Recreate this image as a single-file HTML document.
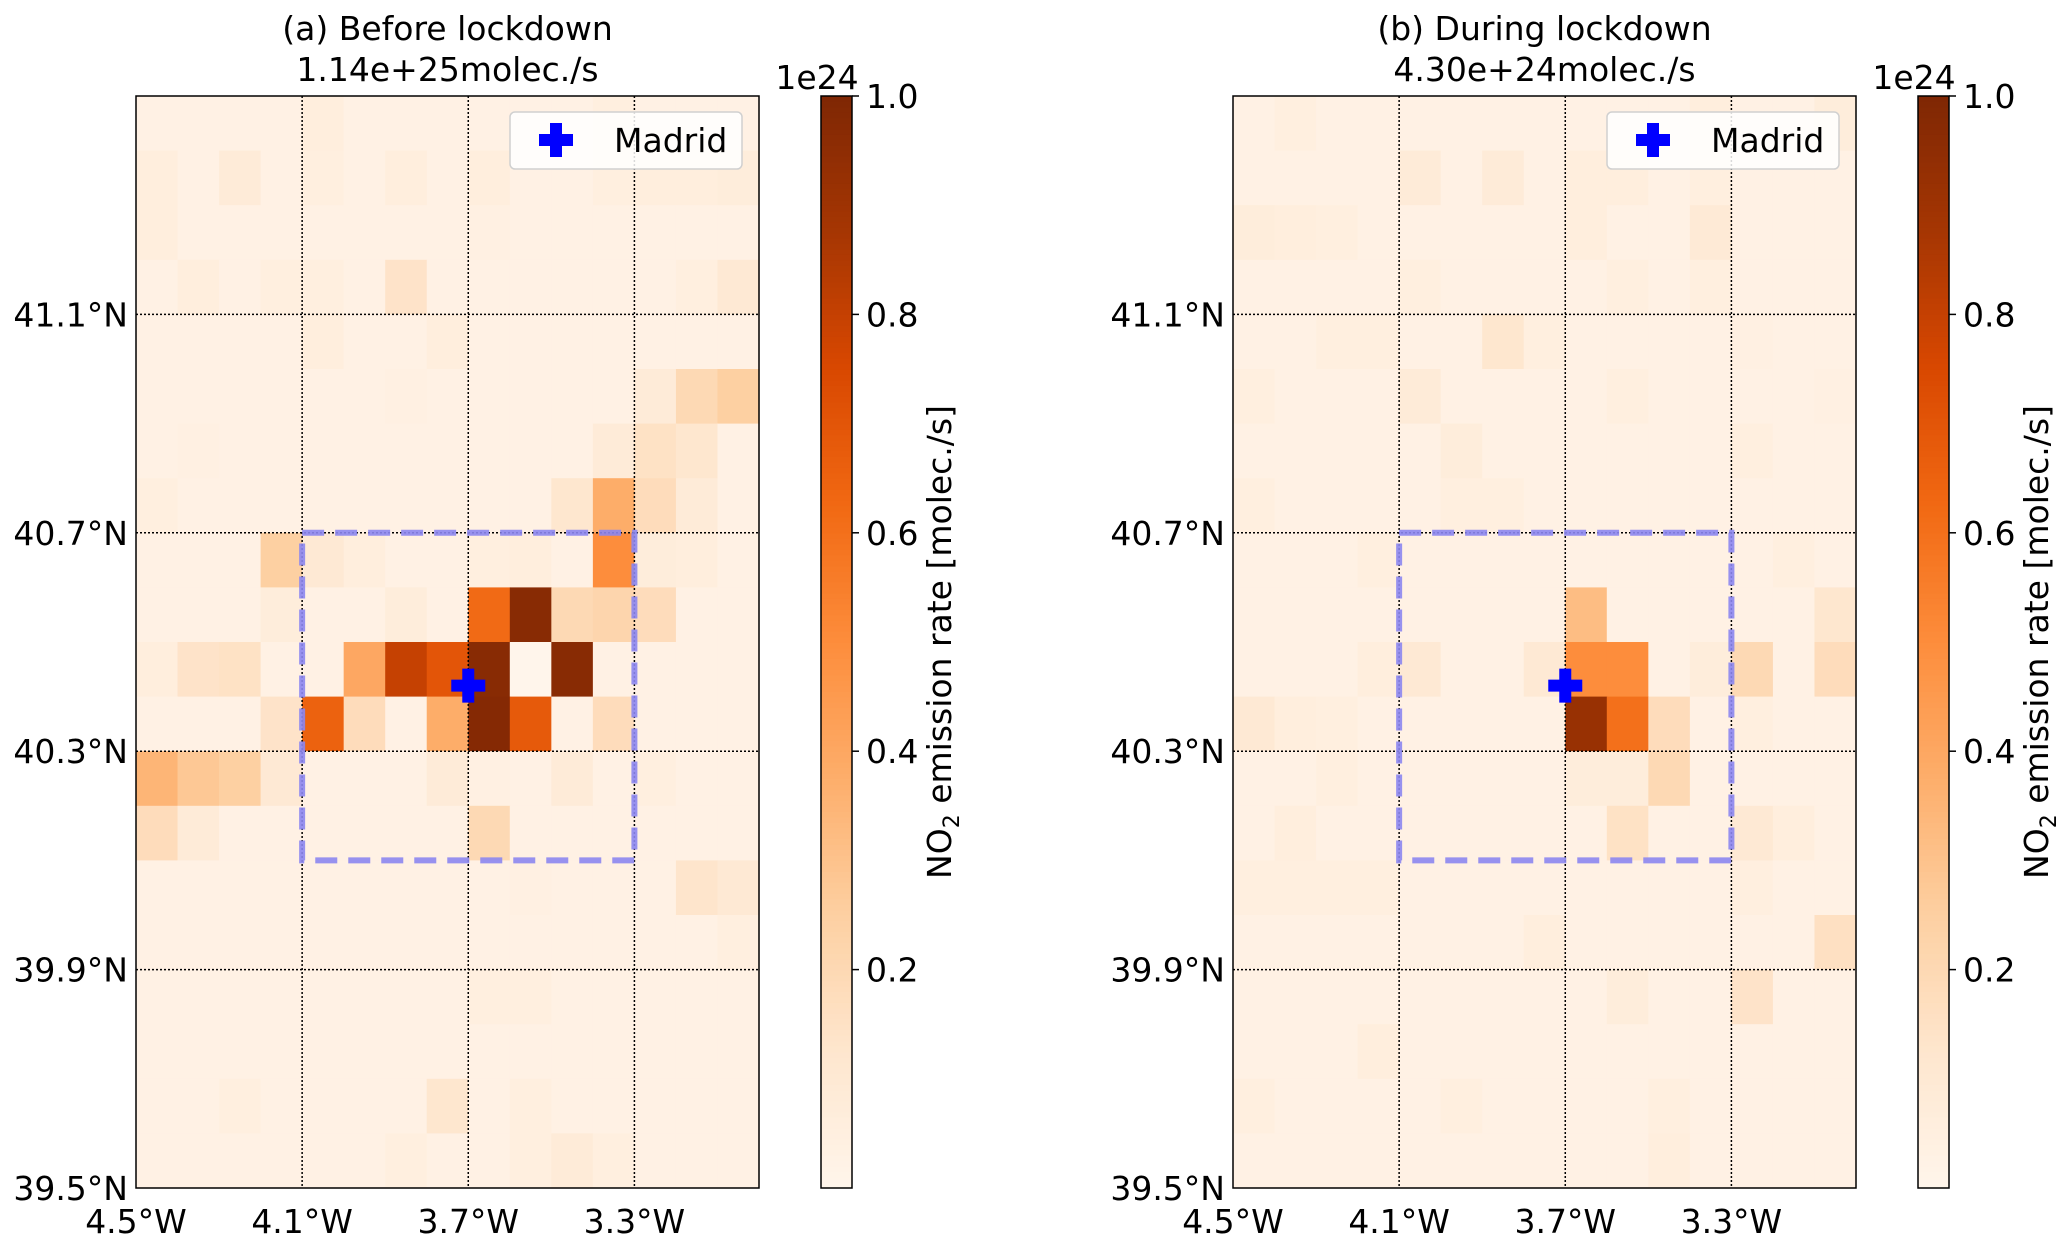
<!DOCTYPE html>
<html><head><meta charset="utf-8"><style>
html,body{margin:0;padding:0;background:#fff}
svg{display:block}
text{font-family:"DejaVu Sans","Liberation Sans",sans-serif;fill:#000}
</style></head><body>
<svg id="fig" width="2067" height="1251" viewBox="0 0 2067 1251" xmlns="http://www.w3.org/2000/svg"></svg>
<script>
// ---- data ----
const lonTicks = [-4.5, -4.1, -3.7, -3.3];
const lonTickLabels = ["4.5°W", "4.1°W", "3.7°W", "3.3°W"];
const latTicks = [39.5, 39.9, 40.3, 40.7, 41.1];
const latTickLabels = ["39.5°N", "39.9°N", "40.3°N", "40.7°N", "41.1°N"];
const cbTicks = [0.2, 0.4, 0.6, 0.8, 1.0];
const cbTickLabels = ["0.2", "0.4", "0.6", "0.8", "1.0"];
const panelTitles = ["(a) Before lockdown", "(b) During lockdown"];
const panelTotals = ["1.14e+25molec./s", "4.30e+24molec./s"];
const madrid = [-3.7, 40.42];
const boxLon = [-4.1, -3.3];
const boxLat = [40.1, 40.7];
const gridLon0 = -4.5, gridLat0 = 39.5, cellDeg = 0.1, nCols = 15, nRows = 20;
// rows listed from north (top) to south (bottom), values in units of 1e24
const gridBefore = [
 [.03,.03,.03,.03,.06,.03,.03,.03,.03,.03,.03,.05,.03,.03,.03],
 [.06,.03,.08,.03,.05,.03,.06,.03,.06,.03,.03,.05,.06,.06,.07],
 [.06,.03,.03,.03,.03,.03,.03,.03,.04,.03,.03,.03,.03,.03,.03],
 [.03,.06,.03,.05,.05,.03,.14,.03,.03,.03,.03,.03,.03,.05,.10],
 [.03,.03,.03,.03,.06,.03,.03,.06,.03,.03,.03,.03,.03,.03,.03],
 [.03,.03,.03,.03,.03,.03,.04,.03,.03,.03,.03,.03,.08,.20,.25],
 [.03,.04,.03,.03,.03,.03,.03,.03,.03,.03,.03,.08,.15,.12,.03],
 [.05,.03,.03,.03,.03,.03,.03,.03,.03,.03,.12,.38,.18,.08,.03],
 [.03,.03,.03,.25,.10,.06,.03,.03,.05,.06,.03,.50,.07,.06,.03],
 [.03,.03,.03,.07,.03,.03,.07,.03,.62,.97,.20,.22,.18,.03,.03],
 [.06,.14,.15,.03,.03,.40,.80,.70,.97,.00,.97,.03,.03,.03,.03],
 [.03,.03,.03,.14,.65,.18,.03,.38,.98,.68,.03,.18,.03,.03,.03],
 [.35,.28,.25,.10,.03,.03,.03,.08,.04,.03,.08,.03,.05,.03,.03],
 [.18,.08,.03,.03,.03,.03,.03,.03,.20,.03,.03,.03,.03,.03,.03],
 [.03,.03,.03,.03,.03,.03,.03,.03,.03,.04,.03,.03,.03,.13,.10],
 [.03,.03,.03,.03,.03,.03,.03,.03,.03,.03,.03,.03,.03,.03,.05],
 [.03,.03,.03,.03,.03,.03,.03,.03,.05,.05,.03,.03,.03,.03,.03],
 [.03,.03,.03,.03,.03,.03,.03,.03,.03,.03,.03,.03,.03,.03,.03],
 [.03,.03,.05,.03,.03,.03,.03,.12,.03,.05,.03,.03,.03,.03,.03],
 [.03,.03,.03,.03,.03,.03,.05,.03,.03,.05,.08,.05,.03,.03,.03]
];
const gridDuring = [
 [.03,.05,.03,.03,.03,.03,.03,.03,.03,.03,.03,.06,.03,.03,.07],
 [.03,.03,.03,.03,.08,.03,.08,.03,.06,.06,.03,.05,.03,.03,.03],
 [.07,.06,.05,.03,.03,.03,.03,.03,.06,.03,.03,.09,.03,.03,.03],
 [.03,.03,.03,.03,.05,.03,.03,.03,.03,.05,.03,.05,.03,.03,.03],
 [.03,.03,.05,.05,.03,.03,.12,.05,.03,.03,.03,.03,.04,.03,.03],
 [.05,.03,.03,.03,.08,.03,.03,.03,.03,.05,.03,.03,.03,.03,.04],
 [.03,.03,.03,.03,.03,.07,.03,.03,.03,.03,.03,.03,.05,.03,.03],
 [.05,.03,.03,.03,.03,.05,.05,.03,.03,.03,.03,.03,.03,.03,.03],
 [.03,.03,.03,.05,.03,.03,.03,.03,.03,.03,.03,.03,.03,.05,.03],
 [.03,.03,.03,.03,.03,.03,.03,.03,.32,.03,.03,.03,.03,.03,.12],
 [.03,.03,.03,.06,.10,.03,.03,.10,.50,.50,.03,.07,.20,.03,.18],
 [.10,.06,.05,.03,.03,.03,.03,.03,.92,.60,.18,.03,.05,.03,.03],
 [.03,.03,.05,.03,.03,.03,.03,.03,.07,.07,.20,.03,.03,.03,.03],
 [.03,.06,.03,.03,.03,.03,.03,.03,.03,.15,.03,.03,.10,.06,.03],
 [.05,.05,.05,.05,.03,.03,.03,.03,.03,.03,.03,.03,.05,.03,.03],
 [.03,.03,.03,.03,.03,.03,.03,.06,.03,.03,.03,.03,.03,.03,.16],
 [.03,.03,.03,.03,.03,.03,.03,.03,.03,.07,.03,.03,.14,.03,.03],
 [.03,.03,.03,.06,.03,.03,.03,.03,.03,.03,.03,.03,.03,.03,.03],
 [.05,.03,.03,.03,.03,.05,.03,.03,.03,.03,.05,.03,.03,.03,.03],
 [.03,.03,.03,.03,.03,.03,.03,.03,.03,.03,.06,.03,.03,.03,.03]
];
const grids = [gridBefore, gridDuring];

// ---- layout ----
const NS = "http://www.w3.org/2000/svg";
const svg = document.getElementById("fig");
const panels = [{x0:136,x1:759,cb:821},{x0:1233,x1:1856,cb:1918}];
const Y0 = 96, Y1 = 1188, CBW = 31, FS = 33;
const stops = [[0,[255,245,235]],[.125,[254,230,206]],[.25,[253,208,162]],[.375,[253,174,107]],[.5,[253,141,60]],[.625,[241,105,19]],[.75,[217,72,1]],[.875,[166,54,3]],[1,[127,39,4]]];
function cmap(v){
  v=Math.max(0,Math.min(1,v));
  for(let i=1;i<stops.length;i++){ if(v<=stops[i][0]){const a=stops[i-1],b=stops[i];const t=(v-a[0])/(b[0]-a[0]);
    return "rgb("+a[1].map((c,k)=>Math.round(c+(b[1][k]-c)*t)).join(",")+")";}}
  return "rgb(127,39,4)";
}
function el(tag, attrs, parent){const e=document.createElementNS(NS,tag);for(const k in attrs)e.setAttribute(k,attrs[k]);(parent||svg).appendChild(e);return e;}
function cross(x,y,a,b){return `M${x-a},${y-b}h${2*a}v${b-a}h${b-a}v${2*a}h${a-b}v${b-a}h${-2*a}v${a-b}h${a-b}v${-2*a}h${b-a}z`;}

panels.forEach((p,pi)=>{
  const g = el("g",{});
  
  
  const xs = lon => p.x0 + (lon - gridLon0)/(nCols*cellDeg)*(p.x1-p.x0);
  const ys = lat => Y1 - (lat - gridLat0)/(nRows*cellDeg)*(Y1-Y0);
  const grid = grids[pi];
  for(let r=0;r<nRows;r++)for(let c=0;c<nCols;c++){
    const latTop = gridLat0 + (nRows-r)*cellDeg, lonL = gridLon0 + c*cellDeg;
    const x=xs(lonL), y=ys(latTop);
    const cell = el("rect",{x:x,y:y,width:xs(lonL+cellDeg)-x+0.6,height:ys(latTop-cellDeg)-y+0.6,fill:cmap(grid[r][c])},g);
    
    
  }
  lonTicks.slice(1).forEach(l=>{const ln=el("line",{x1:xs(l),x2:xs(l),y1:Y0,y2:Y1,stroke:"#000","stroke-width":1.5,"stroke-dasharray":"2,2"},g);
    
    });
  latTicks.slice(1).forEach(l=>{const ln=el("line",{x1:p.x0,x2:p.x1,y1:ys(l),y2:ys(l),stroke:"#000","stroke-width":1.5,"stroke-dasharray":"2,2"},g);
    
    });
  const bx = el("rect",{x:xs(boxLon[0]),y:ys(boxLat[1]),width:xs(boxLon[1])-xs(boxLon[0]),height:ys(boxLat[0])-ys(boxLat[1]),fill:"none",stroke:"#8c86f0","stroke-opacity":0.9,"stroke-width":6,"stroke-dasharray":"22,11"},g);
  
  
  const mx=xs(madrid[0]), my=ys(madrid[1]);
  const mk = el("path",{d:cross(mx,my,6,17),fill:"#0000ff"},g);
  
  
  const fr = el("rect",{x:p.x0,y:Y0,width:p.x1-p.x0,height:Y1-Y0,fill:"none",stroke:"#000","stroke-width":1.5},g);
  
  
  const lg = el("g",{},g);
  
  
  el("rect",{x:p.x1-249,y:112,width:232,height:57,rx:5,fill:"#fff","fill-opacity":0.85,stroke:"#d0d0d0","stroke-width":1.5},lg);
  const lx=p.x1-203, ly=140;
  el("path",{d:cross(lx,ly,6,17),fill:"#0000ff"},lg);
  const lt = el("text",{x:p.x1-145,y:ly+12,"font-size":FS},lg); lt.textContent="Madrid";
  
  
  [panelTitles[pi],panelTotals[pi]].forEach((t,i)=>{
    const tt=el("text",{x:(p.x0+p.x1)/2,y:[40,81][i],"font-size":FS,"text-anchor":"middle"});
    tt.textContent=t;
    
    
  });
  lonTicks.forEach((l,i)=>{const t=el("text",{x:xs(l),y:1233,"font-size":FS,"text-anchor":"middle"});t.textContent=lonTickLabels[i];
    
    });
  latTicks.forEach((l,i)=>{const t=el("text",{x:p.x0-8,y:ys(l)+12,"font-size":FS,"text-anchor":"end"});t.textContent=latTickLabels[i];
    
    });
  const cbg = el("g",{});
  
  
  const N=200;
  for(let i=0;i<N;i++){
    el("rect",{x:p.cb,y:Y1-(i+1)/N*(Y1-Y0),width:CBW,height:(Y1-Y0)/N+0.6,fill:cmap(i/N+0.5/N)},cbg);
  }
  el("rect",{x:p.cb,y:Y0,width:CBW,height:Y1-Y0,fill:"none",stroke:"#000","stroke-width":1.5},cbg);
  const cy = v => Y1 - v*(Y1-Y0);
  cbTicks.forEach((v,i)=>{
    el("line",{x1:p.cb+CBW,x2:p.cb+CBW+7,y1:cy(v),y2:cy(v),stroke:"#000","stroke-width":1.5},cbg);
    const t=el("text",{x:p.cb+CBW+14,y:cy(v)+12,"font-size":FS},cbg);t.textContent=cbTickLabels[i];
    
    
  });
  const ex=el("text",{x:p.cb-4,y:89,"font-size":FS,"text-anchor":"middle"},cbg);ex.textContent="1e24";
  
  
  const cl=el("text",{x:0,y:0,"font-size":FS,"text-anchor":"middle",transform:`translate(${p.cb+130},642) rotate(-90)`},cbg);
  cl.innerHTML='NO<tspan font-size="22" dy="8">2</tspan><tspan dy="-8"> emission rate [molec./s]</tspan>';
  
  
});
</script>
</body></html>
